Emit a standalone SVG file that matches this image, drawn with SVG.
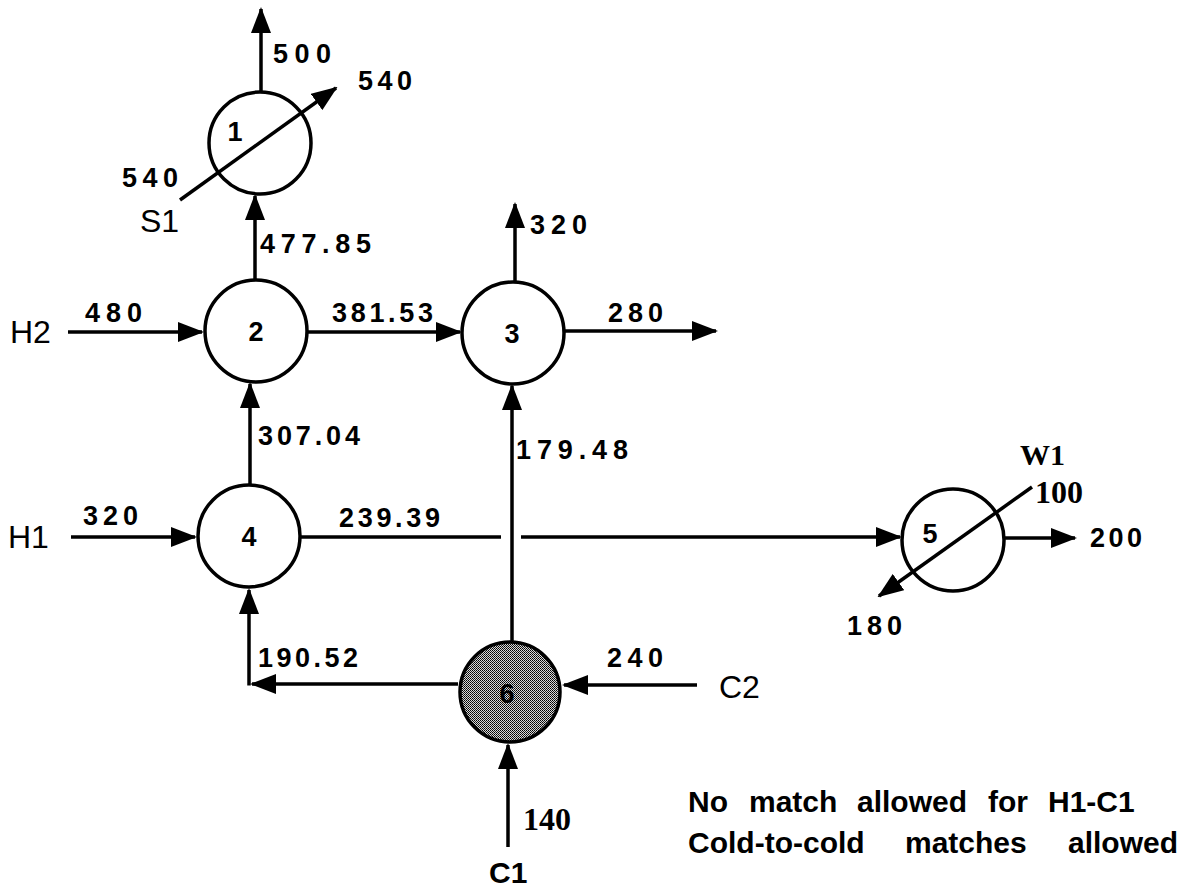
<svg xmlns="http://www.w3.org/2000/svg" width="1200" height="888" viewBox="0 0 1200 888">
<style>
.c{fill:#fff;stroke:#000;stroke-width:3.5}
.l{stroke:#000;stroke-width:3.5;fill:none}
.a{marker-end:url(#ah)}
.n{font-family:"Liberation Sans",Arial,sans-serif;font-weight:bold;font-size:27px;fill:#000}
.id{font-family:"Liberation Sans",Arial,sans-serif;font-weight:bold;font-size:27px;fill:#000;text-anchor:middle}
.s{font-family:"Liberation Sans",Arial,sans-serif;font-size:32px;fill:#000}
.sb{font-family:"Liberation Sans",Arial,sans-serif;font-weight:bold;font-size:30px;fill:#000}
.t{font-family:"Liberation Serif","Times New Roman",serif;font-weight:bold;fill:#000}
.note{font-family:"Liberation Sans",Arial,sans-serif;font-weight:bold;font-size:30px;fill:#000}
</style>
<defs>
<marker id="ah" markerUnits="userSpaceOnUse" markerWidth="26" markerHeight="20" refX="24" refY="10" orient="auto">
<path d="M0,0 L26,10 L0,20 Z" fill="#000"/>
</marker>
<pattern id="dots" width="2" height="2" patternUnits="userSpaceOnUse">
<rect width="2" height="2" fill="#d8d8d8"/>
<rect width="1" height="1" fill="#000"/>
<rect x="1" y="1" width="1" height="1" fill="#222"/>
</pattern>
</defs>
<rect width="1200" height="888" fill="#fff"/>

<g id="connectors">
<line class="l a" x1="261" y1="92" x2="261" y2="9"/>
<line class="l a" x1="180" y1="200" x2="336" y2="88"/>
<line class="l a" x1="255" y1="280" x2="255" y2="196"/>
<line class="l a" x1="68" y1="332" x2="202" y2="332"/>
<line class="l a" x1="308" y1="332" x2="460" y2="332"/>
<line class="l a" x1="515" y1="282" x2="515" y2="204"/>
<line class="l a" x1="565" y1="331" x2="716" y2="331"/>
<line class="l a" x1="71" y1="537" x2="195" y2="537"/>
<line class="l a" x1="250" y1="485" x2="250" y2="384"/>
<line class="l" x1="300" y1="537" x2="501" y2="537"/>
<line class="l a" x1="521" y1="537" x2="900" y2="537"/>
<line class="l a" x1="512" y1="641" x2="512" y2="386"/>
<line class="l a" x1="458" y1="684" x2="252" y2="684"/>
<line class="l a" x1="249" y1="685.5" x2="249" y2="590"/>
<line class="l a" x1="697" y1="685" x2="564" y2="685"/>
<line class="l a" x1="508" y1="847" x2="508" y2="745"/>
<line class="l a" x1="1032" y1="487" x2="879" y2="596"/>
<line class="l a" x1="1003" y1="538" x2="1075" y2="538"/>
</g>

<g id="node1"><circle class="c" cx="260" cy="143" r="51" fill-opacity="0"/><text class="id" x="235" y="141">1</text></g>
<g id="node2"><circle class="c" cx="256" cy="331" r="51"/><text class="id" x="256" y="341">2</text></g>
<g id="node3"><circle class="c" cx="513" cy="333" r="51"/><text class="id" x="512" y="343">3</text></g>
<g id="node4"><circle class="c" cx="249" cy="536" r="51"/><text class="id" x="249" y="546">4</text></g>
<g id="node5"><circle class="c" cx="953" cy="540" r="51" fill-opacity="0"/><text class="id" x="930" y="543">5</text></g>
<g id="node6"><circle cx="510" cy="692" r="50" fill="url(#dots)" stroke="#000" stroke-width="3.5"/><text class="id" x="507" y="703">6</text></g>

<g id="labels">
<text class="n" x="273" y="63" textLength="58">500</text>
<text class="n" x="358" y="90" textLength="54">540</text>
<text class="n" x="122" y="187" textLength="56">540</text>
<text class="n" x="260" y="253" textLength="111">477.85</text>
<text class="n" x="85" y="322" textLength="57">480</text>
<text class="n" x="332" y="322" textLength="101">381.53</text>
<text class="n" x="530" y="234" textLength="57">320</text>
<text class="n" x="608" y="322" textLength="55">280</text>
<text class="n" x="258" y="445" textLength="102">307.04</text>
<text class="n" x="516" y="459" textLength="112">179.48</text>
<text class="n" x="83" y="525" textLength="55">320</text>
<text class="n" x="339" y="527" textLength="101">239.39</text>
<text class="n" x="258" y="667" textLength="100">190.52</text>
<text class="n" x="607" y="667" textLength="56">240</text>
<text class="n" x="1090" y="547" textLength="52">200</text>
<text class="n" x="847" y="635" textLength="55">180</text>
<text class="s" x="140" y="232" font-size="29">S1</text>
<text class="s" x="10" y="343">H2</text>
<text class="s" x="8" y="548">H1</text>
<text class="s" x="719" y="698">C2</text>
<text class="sb" x="489" y="883">C1</text>
<text class="t" x="523" y="830" font-size="32">140</text>
<text class="t" x="1020" y="465" font-size="30">W1</text>
<text class="t" x="1035" y="503" font-size="32">100</text>
<text class="note" y="812"><tspan x="688">No</tspan><tspan x="749">match</tspan><tspan x="857">allowed</tspan><tspan x="988">for</tspan><tspan x="1048">H1-C1</tspan></text>
<text class="note" y="853"><tspan x="688">Cold-to-cold</tspan><tspan x="905">matches</tspan><tspan x="1068">allowed</tspan></text>
</g>
</svg>
